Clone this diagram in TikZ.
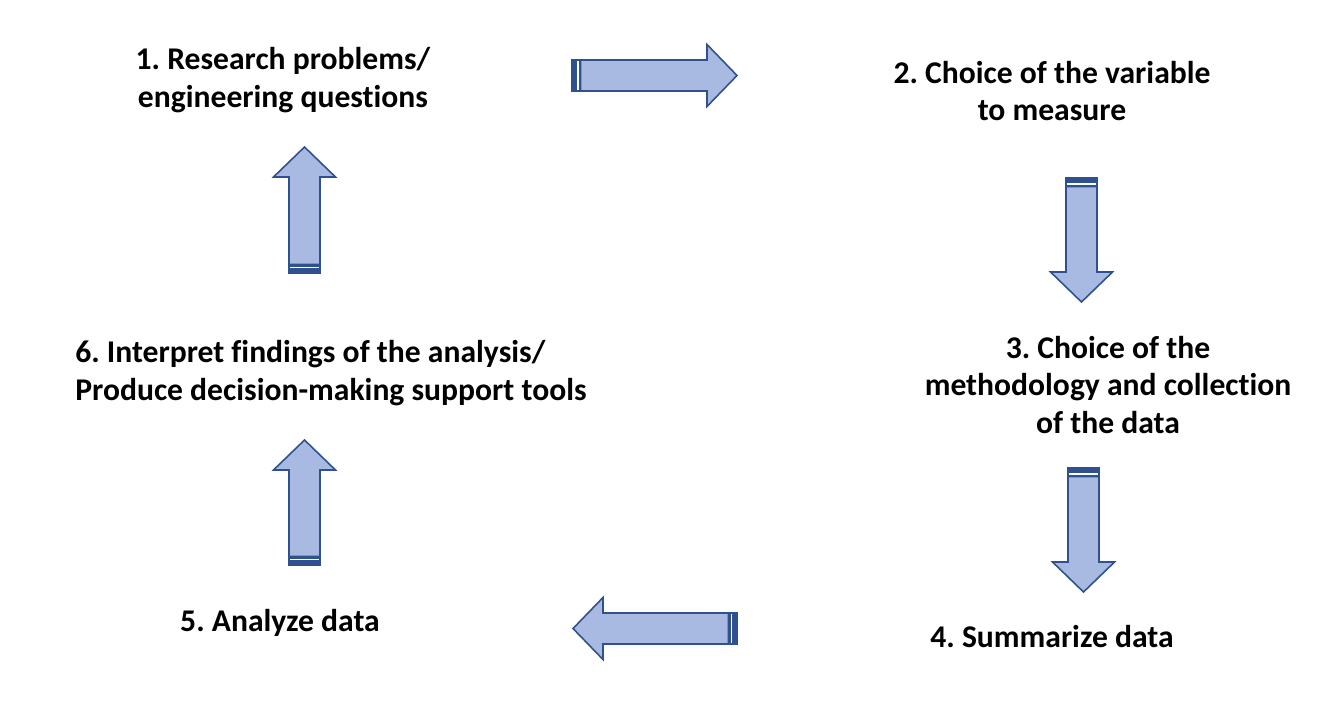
\documentclass[tikz,border=0pt]{standalone}
\usepackage{fontspec}
\setmainfont[Ligatures=NoCommon]{Carlito}
\frenchspacing
\definecolor{arrowfill}{RGB}{168,186,226}
\definecolor{arrowline}{RGB}{47,82,143}
\tikzset{
  pics/striped arrow/.style={code={
    \fill[arrowline] (0,-15.5) rectangle (5,15.5);
    \fill[arrowline] (6.5,-15.5) rectangle (8.5,15.5);
    \draw[arrowline,fill=arrowfill,line width=0.9pt,line join=miter]
      (8.5,-15.5) -- (#1-30,-15.5) -- (#1-30,-31) -- (#1,0)
      -- (#1-30,31) -- (#1-30,15.5) -- (8.5,15.5) -- cycle;
    \draw[arrowline,line width=0.9pt] (0,-15.5) rectangle (8.5,15.5);
  }}
}
\begin{document}
\begin{tikzpicture}[x=0.02cm,y=-0.02cm]
\tikzstyle{stage}=[align=center,inner sep=0pt,font=\fontsize{18}{21.6}\selectfont\bfseries]
\useasboundingbox (0,0) rectangle (1324,724);
\node[stage] (1) at (283, 80) {1. Research problems/\\engineering questions};
\node[stage] (2) at (1052, 91) {2. Choice of the variable\\to measure};
\node[stage] (3) at (1108, 385) {3. Choice of the\\methodology and collection\\of the data};
\node[stage] (4) at (1052, 637) {4. Summarize data};
\node[stage] (5) at (280, 623) {5. Analyze data};
\node[stage,align=left,anchor=west] (6) at (75, 373) {6. Interpret findings of the analysis/\\Produce decision-making support tools};
% block arrows between the stages
\pic at (572, 75.5) {striped arrow=165};
\pic[rotate=-90] at (1081.5, 178) {striped arrow=124};
\pic[rotate=-90] at (1083.5, 468) {striped arrow=124};
\pic[rotate=180] at (737, 628.5) {striped arrow=164};
\pic[rotate=90] at (304.5, 565) {striped arrow=125};
\pic[rotate=90] at (304.5, 273) {striped arrow=126};
\end{tikzpicture}
\end{document}
